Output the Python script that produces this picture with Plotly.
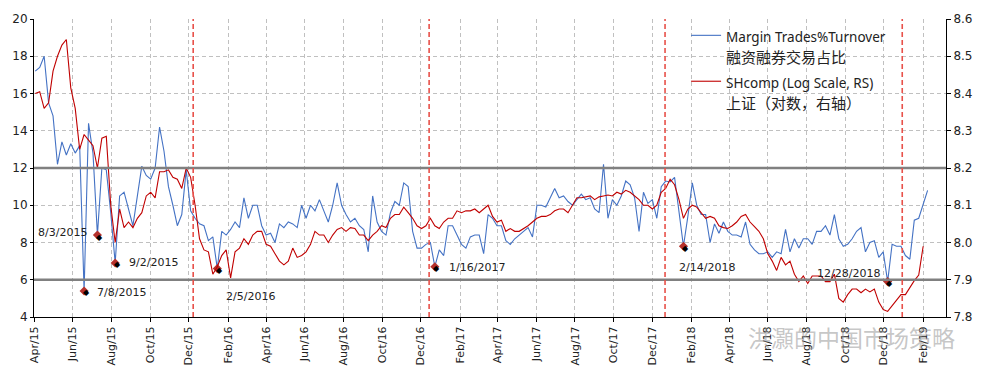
import pandas as pd
import plotly.graph_objects as go

# ---------------- data (weekly readings, Fridays from 2015-04-03) ----------------
start_date = "2015-04-03"

margin_share = [  # Margin Trades % Turnover (left axis, %)
    17.2, 17.4, 18.0, 15.5, 14.8, 12.2, 13.4, 12.7, 13.3, 12.8,
    13.2, 5.4, 14.4, 12.8, 8.4, 12.0, 11.9, 9.6, 6.9, 10.5,
    10.7, 9.8, 8.9, 10.5, 12.1, 11.6, 11.4, 12.0, 14.2, 12.9,
    11.0, 10.0, 8.9, 9.5,
    11.9, 9.7, 9.3, 9.0, 8.9, 8.1,
    8.3, 6.6, 8.6, 8.4, 8.7, 9.1, 8.8, 10.4, 9.3, 10.0,
    10.0, 8.9, 8.4, 8.5, 8.0, 9.0, 8.8, 9.1, 9.0, 8.8,
    10.0, 9.3, 10.0, 9.7, 10.3, 9.7, 9.1, 10.0, 11.2,
    10.0, 9.5, 9.1, 9.3, 8.9, 8.7, 7.5, 10.5, 9.1, 8.6, 8.4,
    9.6, 10.2, 10.0, 11.2, 11.0, 8.6, 7.7, 7.7, 7.9, 8.0,
    6.7, 7.6, 7.3, 8.9, 8.9, 8.4, 7.9, 7.7, 8.3, 8.4,
    8.4, 7.4, 9.5,
    9.3, 8.9, 8.9, 8.1, 7.9, 8.2, 8.4, 8.6, 8.8, 8.3,
    10.0, 10.0, 9.9, 10.4, 10.9, 10.4, 10.5, 10.2, 10.0, 10.3,
    10.6, 10.3, 10.4, 9.8, 9.6, 12.2, 9.3, 10.3, 10.0, 10.5,
    11.3, 11.1, 10.4, 8.6,
    10.7, 10.1, 10.3, 9.3, 11.0, 11.3, 11.25, 11.5, 9.6, 7.8,
    9.4, 11.2, 10.0, 9.5, 9.5, 8.0, 9.0, 8.5, 9.1, 8.6,
    8.4, 8.4, 8.3, 9.1, 7.9, 7.6, 7.4, 7.4, 7.5, 7.2,
    7.5, 7.4, 8.7, 7.5, 8.2,
    7.7, 8.2, 8.2, 7.9, 8.6, 8.6, 8.9, 8.4, 9.5, 8.2,
    7.8, 7.9, 8.2, 8.6, 8.8, 7.5, 8.0, 8.1, 7.2, 7.5,
    5.9, 7.9, 7.8, 7.8, 7.3, 7.1, 9.2, 9.3, 10.0, 10.8,
]

shcomp_log = [  # ln(Shanghai Composite), right axis
    8.400, 8.405, 8.36, 8.375, 8.46, 8.50, 8.53, 8.545, 8.415, 8.36,
    8.25, 8.29, 8.275, 8.26, 8.20, 8.28, 8.285, 8.10, 8.00, 8.09,
    8.04, 8.055, 8.04, 8.065, 8.08, 8.125, 8.135, 8.12, 8.19, 8.19,
    8.195, 8.175, 8.17, 8.145,
    8.20, 8.175, 8.10, 8.01, 7.98, 7.975, 7.915, 7.935, 7.965, 7.98,
    7.905, 7.975, 7.985, 8.01, 7.995, 8.02, 8.03, 8.03, 7.995, 7.99,
    7.97, 7.95, 7.94, 7.95, 7.985, 7.96, 7.965, 7.975, 7.995, 8.03,
    8.02, 8.02, 8.00, 8.02, 8.035,
    8.04, 8.03, 8.04, 8.0375, 8.02, 8.02, 8.005, 8.02, 8.03, 8.045,
    8.04, 8.065, 8.075, 8.075, 8.095, 8.08, 8.065, 8.045, 8.0375, 8.045,
    8.065, 8.045, 8.0375, 8.055, 8.065, 8.065, 8.085, 8.08, 8.085, 8.085,
    8.09, 8.08, 8.09, 8.10,
    8.07, 8.055, 8.06, 8.03, 8.0375, 8.03, 8.03, 8.0375, 8.045, 8.055,
    8.065, 8.07, 8.07, 8.075, 8.085, 8.09, 8.09, 8.08, 8.10, 8.12,
    8.12, 8.1225, 8.125, 8.115, 8.1225, 8.125, 8.1275, 8.125, 8.135, 8.13,
    8.14, 8.135, 8.125, 8.115,
    8.10, 8.10, 8.09, 8.10, 8.135, 8.145, 8.17, 8.155, 8.115, 8.065,
    8.09, 8.10, 8.095, 8.08, 8.065, 8.07, 8.065, 8.045, 8.04, 8.0375,
    8.045, 8.055, 8.07, 8.075, 8.055, 8.0425, 8.03, 8.01, 7.97, 7.95,
    7.925, 7.96, 7.94, 7.95, 7.915,
    7.895, 7.91, 7.89, 7.91, 7.91, 7.91, 7.895, 7.895, 7.915, 7.85,
    7.84, 7.86, 7.875, 7.875, 7.865, 7.875, 7.8675, 7.875, 7.84, 7.82,
    7.815, 7.83, 7.845, 7.86, 7.86, 7.88, 7.8975, 7.9125, 7.99,
]

# marked troughs: index into the weekly series and the label shown
trough_index = [11, 14, 18, 41, 90, 146, 192]
trough_labels = ["7/8/2015", "8/3/2015", "9/2/2015", "2/5/2016",
                 "1/16/2017", "2/14/2018", "12/28/2018"]

event_dates = ["2015-12-08", "2016-12-14", "2017-12-21", "2018-12-30"]
threshold_levels = [12, 6]

x_range = ["2015-04-01", "2019-03-09"]
left_range = [4, 20]
right_range = [7.8, 8.6]

# ---------------- figure ----------------
dates_blue = pd.date_range(start_date, periods=len(margin_share), freq="7D")
dates_red = pd.date_range(start_date, periods=len(shcomp_log), freq="7D")

fig = go.Figure()
fig.add_trace(go.Scatter(
    x=dates_blue, y=margin_share, mode="lines",
    name="<span style='font-size:13.5px'>Margin Trades%Turnover</span><br>"
         "<span style='font-size:15px'>融资融券交易占比</span>",
    line=dict(color="#4472C4", width=1.1),
))
fig.add_trace(go.Scatter(
    x=dates_red, y=shcomp_log, mode="lines", yaxis="y2",
    name="<span style='font-size:13.5px'>SHcomp (Log Scale, RS)</span><br>"
         "<span style='font-size:15px'>上证（对数，右轴）</span>",
    line=dict(color="#C00000", width=1.1),
))

tx = [dates_blue[i] for i in trough_index]
ty = [margin_share[i] for i in trough_index]
fig.add_trace(go.Scatter(
    x=tx, y=ty, mode="markers", showlegend=False,
    marker=dict(symbol="diamond", size=7, color="#B5312C"),
))

label_pos = {
    "7/8/2015": dict(xanchor="left", xshift=11, yshift=-2),
    "8/3/2015": dict(xanchor="right", xshift=-8, yshift=3),
    "9/2/2015": dict(xanchor="left", xshift=12, yshift=0),
    "2/5/2016": dict(xanchor="left", xshift=7, yshift=-28),
    "1/16/2017": dict(xanchor="left", xshift=12, yshift=-1),
    "2/14/2018": dict(xanchor="left", xshift=-6, yshift=-21),
    "12/28/2018": dict(xanchor="right", xshift=-6, yshift=8),
}
annotations = []
for xv, yv, lab in zip(tx, ty, trough_labels):
    annotations.append(dict(x=xv, y=yv, xref="x", yref="y", text="◆",
                            showarrow=False, xshift=2, yshift=-2,
                            font=dict(size=8, color="black", family="DejaVu Sans")))
    p = label_pos[lab]
    annotations.append(dict(x=xv, y=yv, xref="x", yref="y", text=lab,
                            showarrow=False, yanchor="middle",
                            font=dict(size=11, color="#222222", family="DejaVu Sans"), **p))

annotations.append(dict(x=0.896, y=-0.066, xref="paper", yref="paper",
                        text="洪灝的中国市场策略", showarrow=False,
                        xanchor="center", yanchor="middle",
                        font=dict(size=23, color="rgba(150,150,150,0.55)",
                                  family="Noto Sans CJK SC")))

shapes = []
for lv in threshold_levels:
    shapes.append(dict(type="line", xref="paper", yref="y", x0=0, x1=1, y0=lv, y1=lv,
                       line=dict(color="#808080", width=2.5)))
for d in event_dates:
    shapes.append(dict(type="line", xref="x", yref="paper", x0=d, x1=d, y0=0, y1=1,
                       line=dict(color="#E8514A", width=1.6, dash="5px,3px")))

fig.update_layout(
    width=992, height=380,
    margin=dict(l=34, r=46, t=19, b=63),
    paper_bgcolor="white", plot_bgcolor="white",
    font=dict(family="DejaVu Sans", size=12, color="#222222"),
    shapes=shapes, annotations=annotations,
    legend=dict(x=0.715, y=1.003, xanchor="left", yanchor="top",
                bgcolor="rgba(255,255,255,0)", valign="top",
                font=dict(family="Noto Sans, Noto Sans CJK SC", size=16.5, color="#222222"),
                tracegroupgap=0),
    xaxis=dict(type="date", range=x_range, tick0="2015-04-01", dtick="M2",
               tickformat="%b/%y", tickangle=-90, tickfont=dict(size=11),
               showgrid=True, gridcolor="#c0c0c0", griddash="4px,3px", gridwidth=1,
               showline=True, linecolor="black", linewidth=1,
               ticks="outside", ticklen=4, tickcolor="black", zeroline=False),
    yaxis=dict(range=left_range, dtick=2, showgrid=True, gridcolor="#c0c0c0",
               griddash="4px,3px", gridwidth=1, showline=True, linecolor="black",
               linewidth=1, ticks="outside", ticklen=3, tickcolor="black",
               zeroline=False, tickfont=dict(size=12)),
    yaxis2=dict(range=right_range, dtick=0.1, tickformat=".1f", overlaying="y",
                side="right", showgrid=False, showline=True, linecolor="black",
                linewidth=1, ticks="outside", ticklen=4, tickcolor="black",
                zeroline=False, tickfont=dict(size=12)),
)

fig.write_html("out.html", config={"displayModeBar": False},
               post_script="document.body.style.margin='0px';")
